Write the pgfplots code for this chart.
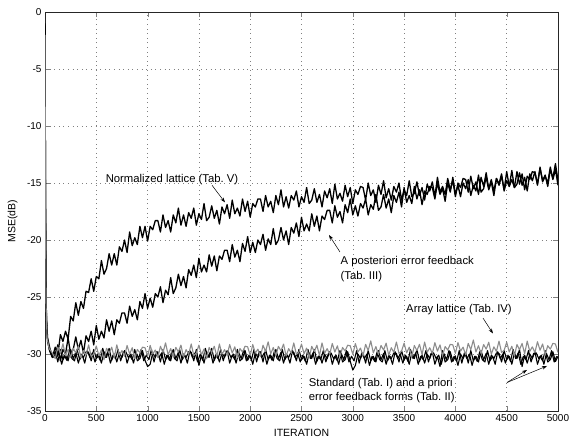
\documentclass[border=0pt]{standalone}
\usepackage{fontspec}
\setmainfont{Liberation Sans}
\usepackage{pgfplots}
\pgfplotsset{compat=1.18}
\usetikzlibrary{arrows.meta}
\begin{document}
\begin{tikzpicture}
\begin{axis}[
  scale only axis, width=513pt, height=399pt,
  xmin=0, xmax=5000, ymin=-35, ymax=0,
  xtick={0,500,...,5000}, ytick={-35,-30,...,0},
  scaled x ticks=false,
  /pgf/number format/1000 sep={},
  /pgf/number format/assume math mode=true,
  ticklabel style={font=\fontsize{10}{12}\selectfont},
  tick align=inside, major tick length=5pt,
  axis line style={black!85, line width=0.5pt},
  grid=major, major grid style={black!50, line width=0.6pt, dash pattern=on 0.6pt off 4pt},
  xlabel={ITERATION}, ylabel={MSE(dB)},
  label style={font=\fontsize{10.5}{12}\selectfont},
  xlabel style={at={(axis description cs:0.5,-0.055)}, anchor=center},
  ylabel style={at={(axis description cs:-0.063,0.476)}, anchor=center},
  every axis plot/.append style={line join=round},
]
% Normalized lattice (Tab. V)
\addplot[black, line width=1.3pt] coordinates {
(0,-1.0)(5,-16)(12,-26.5)(25,-28.6)(50,-29.6)(75,-30.2)
(100,-29.4)(125,-30.1)(150,-28.3)(175,-28.9)(200,-28.0)(225,-28.7)(250,-26.7)(275,-27.1)(300,-25.5)(325,-26.6)(350,-25.4)(375,-26.0)(400,-24.5)(425,-24.6)(450,-23.4)(475,-24.5)(500,-23.2)(525,-23.4)(550,-21.8)(575,-23.0)(600,-22.5)(625,-21.2)(650,-22.2)(675,-21.2)(700,-22.2)(725,-20.6)(750,-21.0)(775,-20.0)(800,-21.1)(825,-19.3)(850,-20.5)(875,-19.8)(900,-20.4)(925,-18.8)(950,-19.8)(975,-18.8)(1000,-20.1)(1025,-18.8)(1050,-19.1)(1075,-18.3)
(1100,-18.3)(1125,-19.3)(1150,-17.8)(1175,-18.9)(1200,-18.3)(1225,-19.3)(1250,-17.8)(1275,-18.5)(1300,-17.2)(1325,-18.7)(1350,-17.8)(1375,-18.8)(1400,-17.6)(1425,-18.1)(1450,-17.2)(1475,-18.7)(1500,-17.7)(1525,-18.2)(1550,-16.8)(1575,-18.3)(1600,-18.0)(1625,-17.0)(1650,-18.1)(1675,-17.4)(1700,-18.6)(1725,-17.1)(1750,-17.7)(1775,-16.9)(1800,-18.1)(1825,-16.5)(1850,-17.7)(1875,-17.2)(1900,-17.9)(1925,-16.4)(1950,-17.5)(1975,-16.6)(2000,-18.0)(2025,-16.8)(2050,-17.1)(2075,-16.4)
(2100,-16.4)(2125,-17.5)(2150,-16.1)(2175,-17.1)(2200,-16.6)(2225,-17.6)(2250,-16.1)(2275,-16.9)(2300,-15.6)(2325,-17.1)(2350,-16.2)(2375,-17.2)(2400,-16.1)(2425,-16.5)(2450,-15.7)(2475,-17.1)(2500,-16.2)(2525,-16.7)(2550,-15.4)(2575,-16.8)(2600,-16.5)(2625,-15.5)(2650,-16.7)(2675,-16.0)(2700,-17.1)(2725,-15.7)(2750,-16.3)(2775,-15.5)(2800,-16.8)(2825,-15.1)(2850,-16.4)(2875,-15.9)(2900,-16.6)(2925,-15.2)(2950,-16.2)(2975,-15.4)(3000,-16.8)(3025,-15.6)(3050,-16.0)(3075,-15.3)
(3100,-15.4)(3125,-16.5)(3150,-15.0)(3175,-16.1)(3200,-15.6)(3225,-16.7)(3250,-15.2)(3275,-16.0)(3300,-14.8)(3325,-16.3)(3350,-15.5)(3375,-16.5)(3400,-15.3)(3425,-15.8)(3450,-15.0)(3475,-16.5)(3500,-15.6)(3525,-16.1)(3550,-14.8)(3575,-16.2)(3600,-15.9)(3625,-14.9)(3650,-16.1)(3675,-15.4)(3700,-16.5)(3725,-15.1)(3750,-15.7)(3775,-14.9)(3800,-16.2)(3825,-14.5)(3850,-15.8)(3875,-15.3)(3900,-16.0)(3925,-14.6)(3950,-15.6)(3975,-14.8)(4000,-16.2)(4025,-15.0)(4050,-15.4)(4075,-14.6)
(4100,-14.7)(4125,-15.8)(4150,-14.4)(4175,-15.5)(4200,-14.9)(4225,-16.0)(4250,-14.5)(4275,-15.3)(4300,-14.1)(4325,-15.5)(4350,-14.7)(4375,-15.7)(4400,-14.6)(4425,-15.1)(4450,-14.2)(4475,-15.7)(4500,-14.8)(4525,-15.3)(4550,-13.9)(4575,-15.4)(4600,-15.1)(4625,-14.1)(4650,-15.2)(4675,-14.5)(4700,-15.7)(4725,-14.2)(4750,-14.8)(4775,-14.0)(4800,-15.2)(4825,-13.6)(4850,-14.9)(4875,-14.4)(4900,-15.0)(4925,-13.6)(4950,-14.7)(4975,-13.8)(5000,-15.2)
};
% A posteriori error feedback (Tab. III)
\addplot[black, line width=1.3pt] coordinates {
(0,-1.2)(6,-19)(14,-27)(25,-28.9)(50,-29.8)(75,-30.3)
(100,-30.1)(125,-29.2)(150,-30.6)(175,-29.6)(200,-30.0)(225,-28.6)(250,-30.0)(275,-29.6)(300,-28.5)(325,-29.6)(350,-28.8)(375,-29.9)(400,-28.4)(425,-28.9)(450,-28.0)(475,-29.2)(500,-27.5)(525,-28.7)(550,-28.0)(575,-28.6)(600,-27.0)(625,-28.0)(650,-27.1)(675,-28.3)(700,-27.0)(725,-27.3)(750,-26.4)(775,-26.4)(800,-27.3)(825,-25.8)(850,-26.7)(875,-26.1)(900,-27.0)(925,-25.4)(950,-26.0)(975,-24.7)(1000,-26.0)(1025,-25.1)(1050,-25.9)(1075,-24.7)
(1100,-25.0)(1125,-24.1)(1150,-25.5)(1175,-24.4)(1200,-24.8)(1225,-23.3)(1250,-24.7)(1275,-24.2)(1300,-23.0)(1325,-24.0)(1350,-23.2)(1375,-24.2)(1400,-22.6)(1425,-23.1)(1450,-22.2)(1475,-23.3)(1500,-21.6)(1525,-22.8)(1550,-22.2)(1575,-22.8)(1600,-21.3)(1625,-22.3)(1650,-21.4)(1675,-22.7)(1700,-21.4)(1725,-21.7)(1750,-20.9)(1775,-20.9)(1800,-21.9)(1825,-20.4)(1850,-21.5)(1875,-20.9)(1900,-21.9)(1925,-20.3)(1950,-21.0)(1975,-19.7)(2000,-21.1)(2025,-20.2)(2050,-21.1)(2075,-20.0)
(2100,-20.4)(2125,-19.5)(2150,-20.9)(2175,-19.9)(2200,-20.4)(2225,-19.0)(2250,-20.4)(2275,-20.0)(2300,-18.9)(2325,-20.0)(2350,-19.2)(2375,-20.4)(2400,-18.9)(2425,-19.4)(2450,-18.5)(2475,-19.7)(2500,-18.0)(2525,-19.2)(2550,-18.6)(2575,-19.2)(2600,-17.7)(2625,-18.8)(2650,-17.9)(2675,-19.2)(2700,-17.9)(2725,-18.2)(2750,-17.4)(2775,-17.4)(2800,-18.5)(2825,-17.0)(2850,-18.0)(2875,-17.5)(2900,-18.5)(2925,-16.9)(2950,-17.6)(2975,-16.4)(3000,-17.8)(3025,-17.0)(3050,-17.9)(3075,-16.8)
(3100,-17.2)(3125,-16.4)(3150,-17.8)(3175,-16.9)(3200,-17.3)(3225,-16.0)(3250,-17.4)(3275,-17.1)(3300,-16.0)(3325,-17.2)(3350,-16.4)(3375,-17.6)(3400,-16.1)(3425,-16.7)(3450,-15.8)(3475,-17.1)(3500,-15.4)(3525,-16.7)(3550,-16.1)(3575,-16.8)(3600,-15.3)(3625,-16.4)(3650,-15.6)(3675,-16.9)(3700,-15.7)(3725,-16.0)(3750,-15.3)(3775,-15.4)(3800,-16.4)(3825,-15.0)(3850,-16.0)(3875,-15.5)(3900,-16.6)(3925,-15.0)(3950,-15.8)(3975,-14.5)(4000,-16.0)(4025,-15.2)(4050,-16.2)(4075,-15.0)
(4100,-15.5)(4125,-14.7)(4150,-16.1)(4175,-15.2)(4200,-15.7)(4225,-14.3)(4250,-15.8)(4275,-15.5)(4300,-14.5)(4325,-15.6)(4350,-14.9)(4375,-16.1)(4400,-14.6)(4425,-15.2)(4450,-14.4)(4475,-15.6)(4500,-14.0)(4525,-15.3)(4550,-14.7)(4575,-15.4)(4600,-14.0)(4625,-15.1)(4650,-14.2)(4675,-15.6)(4700,-14.4)(4725,-14.7)(4750,-14.0)(4775,-14.1)(4800,-15.1)(4825,-13.7)(4850,-14.8)(4875,-14.3)(4900,-15.3)(4925,-13.8)(4950,-14.6)(4975,-13.3)(5000,-14.8)
};
% Standard (Tab. I)
\addplot[black, line width=1.1pt] coordinates {
(0,-1.5)(4,-14)(10,-25)(20,-28.4)(40,-29.6)(70,-30.3)
(100,-29.8)(125,-30.7)(150,-29.6)(175,-30.5)(200,-30.1)(225,-30.6)(250,-29.6)(275,-30.4)(300,-29.85)(325,-30.8)(350,-30.0)(375,-30.3)(400,-29.8)(425,-29.85)(450,-30.6)(475,-29.6)(500,-30.4)(525,-30.1)(550,-30.8)(575,-29.8)(600,-30.3)(625,-29.5)(650,-30.55)(675,-30.0)(700,-30.7)(725,-29.9)(750,-30.3)(775,-29.7)(800,-30.8)(825,-30.1)(850,-30.5)(875,-29.6)(900,-30.6)(925,-30.4)(950,-29.7)(975,-30.55)(1000,-31.1)(1025,-30.9)(1050,-29.9)(1075,-30.3)
(1100,-29.8)(1125,-30.7)(1150,-29.6)(1175,-30.5)(1200,-30.1)(1225,-30.6)(1250,-29.6)(1275,-30.4)(1300,-29.85)(1325,-30.8)(1350,-30.0)(1375,-30.3)(1400,-29.8)(1425,-29.85)(1450,-30.6)(1475,-29.6)(1500,-31.0)(1525,-30.1)(1550,-30.8)(1575,-29.8)(1600,-30.3)(1625,-29.5)(1650,-30.55)(1675,-30.0)(1700,-30.7)(1725,-29.9)(1750,-30.3)(1775,-29.7)(1800,-30.8)(1825,-30.1)(1850,-30.5)(1875,-29.6)(1900,-30.6)(1925,-30.4)(1950,-29.7)(1975,-30.55)(2000,-30.1)(2025,-30.9)(2050,-29.9)(2075,-30.3)
(2100,-29.8)(2125,-30.7)(2150,-29.6)(2175,-30.5)(2200,-30.1)(2225,-30.6)(2250,-29.6)(2275,-30.4)(2300,-29.85)(2325,-30.8)(2350,-30.0)(2375,-30.3)(2400,-29.8)(2425,-29.85)(2450,-30.6)(2475,-29.6)
(2500,-30.5)(2525,-30.2)(2550,-30.9)(2575,-29.9)(2600,-30.4)(2625,-29.6)(2650,-30.65)(2675,-30.1)(2700,-30.8)(2725,-30.0)(2750,-30.4)(2775,-29.8)(2800,-30.9)(2825,-30.2)(2850,-30.6)(2875,-29.7)(2900,-30.7)(2925,-30.5)(2950,-29.8)(2975,-30.65)(3000,-31.4)(3025,-31.0)(3050,-30.0)(3075,-30.4)
(3100,-29.9)(3125,-30.8)(3150,-29.7)(3175,-30.6)(3200,-30.2)(3225,-30.7)(3250,-29.7)(3275,-30.5)(3300,-29.95)(3325,-30.9)(3350,-30.1)(3375,-30.4)(3400,-29.9)(3425,-29.95)(3450,-30.7)(3475,-29.7)(3500,-30.5)(3525,-30.2)(3550,-30.9)(3575,-29.9)(3600,-30.4)(3625,-29.6)(3650,-30.65)(3675,-30.1)(3700,-30.8)(3725,-30.0)(3750,-30.4)(3775,-29.8)(3800,-30.9)(3825,-30.2)(3850,-31.1)(3875,-29.7)(3900,-30.7)(3925,-30.5)(3950,-29.8)(3975,-30.65)(4000,-30.2)(4025,-31.0)(4050,-30.0)(4075,-30.4)
(4100,-29.9)(4125,-30.8)(4150,-29.7)(4175,-30.6)(4200,-30.2)(4225,-30.7)(4250,-29.7)(4275,-30.5)(4300,-29.95)(4325,-30.9)(4350,-30.1)(4375,-30.4)(4400,-29.9)(4425,-29.95)(4450,-30.7)(4475,-29.7)(4500,-30.5)(4525,-30.2)(4550,-30.9)(4575,-29.9)(4600,-30.4)(4625,-29.6)(4650,-31.1)(4675,-30.1)(4700,-30.8)(4725,-30.0)(4750,-30.4)(4775,-29.8)(4800,-30.9)(4825,-30.2)(4850,-30.6)(4875,-29.7)(4900,-30.7)(4925,-30.5)(4950,-29.8)(4975,-30.65)(5000,-30.2)
};
% A priori error feedback (Tab. II)
\addplot[black, line width=1.1pt] coordinates {
(112.5,-30.3)(137.5,-29.9)(162.5,-30.9)(187.5,-30.1)(212.5,-30.55)(237.5,-29.7)(262.5,-30.4)(287.5,-30.6)(312.5,-29.6)(337.5,-30.5)(362.5,-30.1)(387.5,-30.8)(412.5,-29.7)(437.5,-30.3)(462.5,-29.9)(487.5,-30.7)(512.5,-30.0)(537.5,-30.55)(562.5,-29.5)(587.5,-30.3)(612.5,-29.8)(637.5,-30.8)(662.5,-30.1)(687.5,-30.4)(712.5,-29.6)(737.5,-30.6)(762.5,-29.85)(787.5,-29.8)(812.5,-30.3)(837.5,-30.0)(862.5,-30.8)(887.5,-29.85)(912.5,-30.4)(937.5,-29.6)(962.5,-30.6)(987.5,-30.1)(1012.5,-30.5)(1037.5,-29.6)(1062.5,-30.7)(1087.5,-29.8)
(1112.5,-30.3)(1137.5,-29.9)(1162.5,-30.9)(1187.5,-30.1)(1212.5,-30.55)(1237.5,-29.7)(1262.5,-30.4)(1287.5,-30.6)(1312.5,-29.6)(1337.5,-30.5)(1362.5,-30.1)(1387.5,-30.8)(1412.5,-29.7)(1437.5,-30.3)(1462.5,-29.9)(1487.5,-30.7)(1512.5,-30.0)(1537.5,-30.55)(1562.5,-29.5)(1587.5,-30.3)(1612.5,-29.8)(1637.5,-30.8)(1662.5,-30.1)(1687.5,-30.4)(1712.5,-29.6)(1737.5,-30.6)(1762.5,-29.85)(1787.5,-29.8)(1812.5,-30.3)(1837.5,-30.0)(1862.5,-30.8)(1887.5,-29.85)(1912.5,-30.4)(1937.5,-29.6)(1962.5,-30.6)(1987.5,-30.1)(2012.5,-30.5)(2037.5,-29.6)(2062.5,-30.7)(2087.5,-29.8)
(2112.5,-30.3)(2137.5,-29.9)(2162.5,-30.9)(2187.5,-30.1)(2212.5,-30.55)(2237.5,-29.7)(2262.5,-30.4)(2287.5,-30.6)(2312.5,-29.6)(2337.5,-30.5)(2362.5,-30.1)(2387.5,-30.8)(2412.5,-29.7)(2437.5,-30.3)(2462.5,-29.9)(2487.5,-30.7)
(2512.5,-30.1)(2537.5,-30.65)(2562.5,-29.6)(2587.5,-30.4)(2612.5,-29.9)(2637.5,-30.9)(2662.5,-30.2)(2687.5,-30.5)(2712.5,-29.7)(2737.5,-30.7)(2762.5,-29.95)(2787.5,-29.9)(2812.5,-30.4)(2837.5,-30.1)(2862.5,-30.9)(2887.5,-29.95)(2912.5,-30.5)(2937.5,-29.7)(2962.5,-30.7)(2987.5,-30.2)(3012.5,-30.6)(3037.5,-29.7)(3062.5,-30.8)(3087.5,-29.9)
(3112.5,-30.4)(3137.5,-30.0)(3162.5,-31.0)(3187.5,-30.2)(3212.5,-30.65)(3237.5,-29.8)(3262.5,-30.5)(3287.5,-30.7)(3312.5,-29.7)(3337.5,-30.6)(3362.5,-30.2)(3387.5,-30.9)(3412.5,-29.8)(3437.5,-30.4)(3462.5,-30.0)(3487.5,-30.8)(3512.5,-30.1)(3537.5,-30.65)(3562.5,-29.6)(3587.5,-30.4)(3612.5,-29.9)(3637.5,-30.9)(3662.5,-30.2)(3687.5,-30.5)(3712.5,-29.7)(3737.5,-30.7)(3762.5,-29.95)(3787.5,-29.9)(3812.5,-30.4)(3837.5,-30.1)(3862.5,-30.9)(3887.5,-29.95)(3912.5,-30.5)(3937.5,-29.7)(3962.5,-30.7)(3987.5,-30.2)(4012.5,-30.6)(4037.5,-29.7)(4062.5,-30.8)(4087.5,-29.9)
(4112.5,-30.4)(4137.5,-30.0)(4162.5,-31.0)(4187.5,-30.2)(4212.5,-30.65)(4237.5,-29.8)(4262.5,-30.5)(4287.5,-30.7)(4312.5,-29.7)(4337.5,-30.6)(4362.5,-30.2)(4387.5,-30.9)(4412.5,-29.8)(4437.5,-30.4)(4462.5,-30.0)(4487.5,-30.8)(4512.5,-30.1)(4537.5,-30.65)(4562.5,-29.6)(4587.5,-30.4)(4612.5,-29.9)(4637.5,-30.9)(4662.5,-30.2)(4687.5,-30.5)(4712.5,-29.7)(4737.5,-30.7)(4762.5,-29.95)(4787.5,-29.9)(4812.5,-30.4)(4837.5,-30.1)(4862.5,-30.9)(4887.5,-29.95)(4912.5,-30.5)(4937.5,-29.7)(4962.5,-30.7)(4987.5,-30.2)
};
% Array lattice (Tab. IV)
\addplot[black!45, line width=1.1pt] coordinates {
(0,-2.0)(4,-15)(10,-25.5)(20,-28.6)(40,-29.5)(70,-29.9)
(100,-30.4)(125,-29.4)(150,-29.95)(175,-29.1)(200,-30.15)(225,-29.6)(250,-30.3)(275,-29.5)(300,-29.9)(325,-29.3)(350,-30.35)(375,-29.7)(400,-30.1)(425,-29.2)(450,-30.2)(475,-30.0)(500,-29.3)(525,-30.15)(550,-29.65)(575,-30.5)(600,-29.5)(625,-29.95)(650,-29.4)(675,-30.3)(700,-29.2)(725,-30.1)(750,-29.7)(775,-30.2)(800,-29.25)(825,-30.0)(850,-29.45)(875,-30.4)(900,-29.6)(925,-29.9)(950,-29.4)(975,-29.45)(1000,-30.2)(1025,-29.25)(1050,-30.0)(1075,-29.65)
(1100,-30.32)(1125,-29.32)(1150,-29.87)(1175,-29.02)(1200,-30.07)(1225,-29.52)(1250,-30.22)(1275,-29.42)(1300,-29.82)(1325,-29.22)(1350,-30.27)(1375,-29.62)(1400,-30.02)(1425,-29.12)(1450,-30.12)(1475,-29.92)(1500,-29.22)(1525,-30.07)(1550,-29.57)(1575,-30.42)(1600,-29.42)(1625,-29.87)(1650,-29.32)(1675,-30.22)(1700,-29.12)(1725,-30.02)(1750,-29.62)(1775,-30.12)(1800,-29.17)(1825,-29.92)(1850,-29.37)(1875,-30.32)(1900,-29.52)(1925,-29.82)(1950,-29.32)(1975,-29.37)(2000,-30.12)(2025,-29.17)(2050,-29.92)(2075,-29.57)
(2100,-30.23)(2125,-29.23)(2150,-29.78)(2175,-28.93)(2200,-29.98)(2225,-29.43)(2250,-30.13)(2275,-29.33)(2300,-29.73)(2325,-29.13)(2350,-30.18)(2375,-29.53)(2400,-29.93)(2425,-29.03)(2450,-30.03)(2475,-29.83)(2500,-29.13)(2525,-29.98)(2550,-29.48)(2575,-30.33)(2600,-29.33)(2625,-29.78)(2650,-29.23)(2675,-30.13)(2700,-29.03)(2725,-29.93)(2750,-29.53)(2775,-30.03)(2800,-29.08)(2825,-29.83)(2850,-29.28)(2875,-30.23)(2900,-29.43)(2925,-29.73)(2950,-29.23)(2975,-29.28)(3000,-30.03)(3025,-29.08)(3050,-29.83)(3075,-29.48)
(3100,-30.15)(3125,-29.15)(3150,-29.7)(3175,-28.85)(3200,-29.9)(3225,-29.35)(3250,-30.05)(3275,-29.25)(3300,-29.65)(3325,-29.05)(3350,-30.1)(3375,-29.45)(3400,-29.85)(3425,-28.95)(3450,-29.95)(3475,-29.75)(3500,-29.05)(3525,-29.9)(3550,-29.4)(3575,-30.25)(3600,-29.25)(3625,-29.7)(3650,-29.15)(3675,-30.05)(3700,-28.95)(3725,-29.85)(3750,-29.45)(3775,-29.95)(3800,-29.0)(3825,-29.75)(3850,-29.2)(3875,-30.15)(3900,-29.35)(3925,-29.65)(3950,-29.15)(3975,-29.2)(4000,-29.95)(4025,-29.0)(4050,-29.75)(4075,-29.4)
(4100,-30.07)(4125,-29.07)(4150,-29.62)(4175,-28.77)(4200,-29.82)(4225,-29.27)(4250,-29.97)(4275,-29.17)(4300,-29.57)(4325,-28.97)(4350,-30.02)(4375,-29.37)(4400,-29.77)(4425,-28.87)(4450,-29.87)(4475,-29.67)(4500,-28.97)(4525,-29.82)(4550,-29.32)(4575,-30.17)(4600,-29.17)(4625,-29.62)(4650,-29.07)(4675,-29.97)(4700,-28.87)(4725,-29.77)(4750,-29.37)(4775,-29.87)(4800,-28.92)(4825,-29.67)(4850,-29.12)(4875,-30.07)(4900,-29.27)(4925,-29.57)(4950,-29.07)(4975,-29.12)(5000,-29.87)
};
% annotations
\begin{scope}[every node/.style={font=\fontsize{11.3}{13}\selectfont, inner sep=0pt}]
\node at (axis cs:1238,-14.7) {Normalized lattice (Tab.\ V)};
\node[anchor=west] at (axis cs:2880,-21.9) {A posteriori error feedback};
\node[anchor=west] at (axis cs:2880,-23.2) {(Tab.\ III)};
\node at (axis cs:4035,-26.1) {Array lattice (Tab.\ IV)};
\node[anchor=west] at (axis cs:2570,-32.6) {Standard (Tab.\ I) and a priori};
\node[anchor=west] at (axis cs:2570,-33.8) {error feedback forms (Tab.\ II)};
\end{scope}
\draw[-{Stealth[length=5pt,width=3.5pt]}, line width=0.5pt] (axis cs:1628,-15.2) -- (axis cs:1754,-16.7);
\draw[-{Stealth[length=5pt,width=3.5pt]}, line width=0.5pt] (axis cs:2875,-21.05) -- (axis cs:2768,-19.56);
\draw[-{Stealth[length=5pt,width=3.5pt]}, line width=0.5pt] (axis cs:4269,-26.85) -- (axis cs:4366,-28.2);
\draw[-{Stealth[length=5pt,width=3.5pt]}, line width=0.5pt] (axis cs:4503,-32.5) -- (axis cs:4698,-31.4);
\draw[-{Stealth[length=5pt,width=3.5pt]}, line width=0.5pt] (axis cs:4503,-32.5) -- (axis cs:4893,-31.05);
\end{axis}
\pgfresetboundingbox
\path[use as bounding box] ([shift={(-45pt,-34pt)}]current axis.south west) rectangle ([shift={(527pt,411pt)}]current axis.south west);
\end{tikzpicture}
\end{document}
